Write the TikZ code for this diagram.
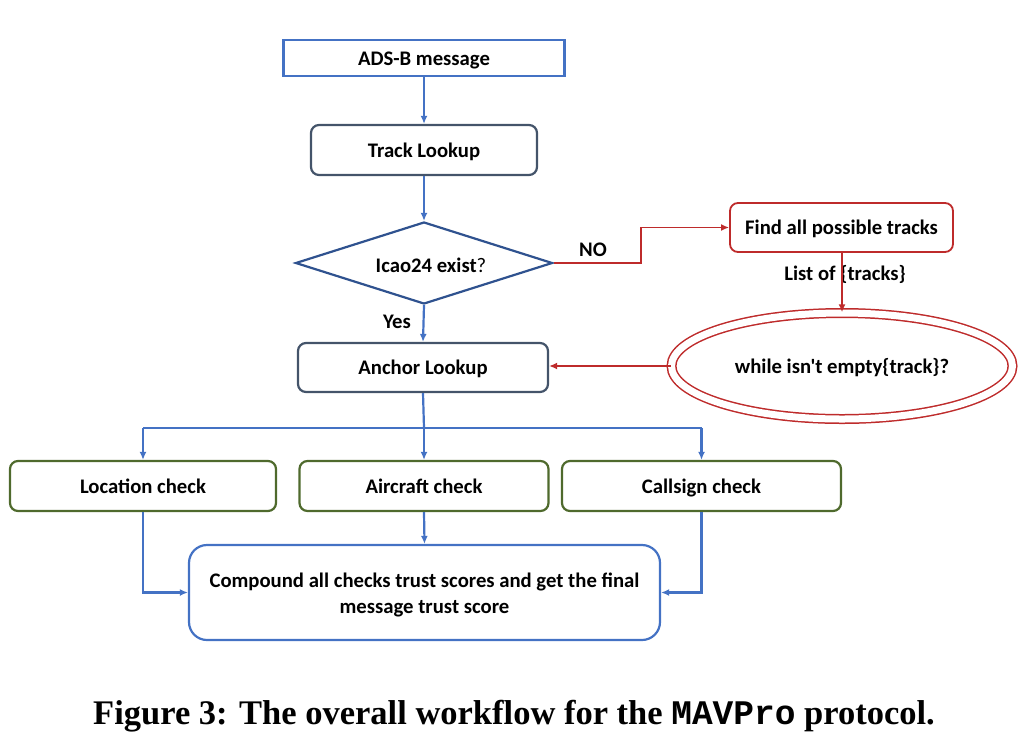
\documentclass[tikz,border=0pt]{standalone}
\usepackage{fontspec}
\setmainfont{Carlito}[Ligatures=TeXOff]
\newfontfamily\capfont{Liberation Serif}
\newfontfamily\capmono{Liberation Mono}
\usetikzlibrary{shapes.geometric,arrows.meta}
\definecolor{cblue}{HTML}{4472C4}
\definecolor{cslate}{HTML}{44546A}
\definecolor{cdia}{HTML}{2F528F}
\definecolor{cred}{HTML}{BE2B2B}
\definecolor{cgreen}{HTML}{4F6A2D}
\begin{document}
\begin{tikzpicture}[x=1pt,y=-1pt,
  lbl/.style={font=\fontsize{20.7}{24}\selectfont\bfseries},
  boxbase/.style={lbl, draw, line width=2.2pt, inner sep=0pt, align=center},
  fixh/.style={text height=17pt, text depth=3pt},
  bluebox/.style={boxbase, draw=cblue},
  slatebox/.style={boxbase, fixh, draw=cslate, rounded corners=8pt},
  redbox/.style={boxbase, fixh, draw=cred, line width=1.8pt, rounded corners=8pt},
  greenbox/.style={boxbase, fixh, draw=cgreen, rounded corners=8pt},
  conn/.style={draw=cblue, line width=2.2pt, -{Latex[length=8pt,width=7pt]}},
  rconn/.style={draw=cred, line width=1.6pt, -{Latex[length=8pt,width=7pt]}},
  plainconn/.style={draw=cblue, line width=2.2pt}
]
\useasboundingbox (0,0) rectangle (1030,748);

\node[bluebox, fixh, minimum width=281pt, minimum height=36pt] (ads) at (424,58) {ADS-B message};
\node[slatebox, minimum width=226pt, minimum height=50pt] (track) at (424,150) {Track Lookup};
\node[lbl, diamond, draw=cdia, line width=2.2pt, inner sep=0pt, aspect=3.13,
      minimum width=257pt, minimum height=82pt] (dia) at (424,263) {};
\node[lbl] (diatext) at (431,265) {Icao24 exist\mdseries ?};
\node[slatebox, minimum width=250pt, minimum height=49pt] (anchor) at (423,367.5) {Anchor Lookup};
\node[redbox, minimum width=223pt, minimum height=49pt] (find) at (841.5,227.5) {Find all possible tracks};
\node[lbl, ellipse, draw=cred, line width=1.5pt, double=white, double distance=7pt,
      minimum width=341pt, minimum height=106pt, inner sep=0pt, text height=17pt, text depth=3pt] (loop) at (842,366) {while isn't empty\{track\}?};

\node[greenbox, minimum width=266pt, minimum height=50pt] (loc) at (143,486) {Location check};
\node[greenbox, minimum width=249pt, minimum height=50pt] (air) at (424,486) {Aircraft check};
\node[greenbox, minimum width=279pt, minimum height=50pt] (call) at (701.5,486) {Callsign check};
\node[bluebox, rounded corners=18pt, minimum width=471pt, minimum height=95pt] (comp) at (424.5,592.5)
  {\rule{0pt}{20pt}Compound all checks trust scores and get the final\\[2pt] message trust score};

\node[lbl] (yes) at (397,322) {Yes};
\node[lbl] (no) at (593,250) {NO};
\node[lbl] (list) at (845,274) {List of \{tracks\}};

\coordinate (j) at (424,428);
\coordinate (nobend) at (641,263);

\draw[conn] (ads.south) -- (track.north);
\draw[conn] (track.south) -- (dia.north);
\draw[conn] (dia.south) -- (anchor.north);
\draw[rconn] (dia.east) -- (nobend) |- (find.west);
\draw[rconn] (find.south -| loop.north) -- (loop.north);
\draw[rconn] (loop.west) -- (loop.west -| anchor.east);

\draw[plainconn] (anchor.south) -- (j);
\draw[plainconn] (j -| loc.north) -- (j -| call.north);
\draw[conn] (j -| loc.north) -- (loc.north);
\draw[conn] (j) -- (air.north);
\draw[conn] (j -| call.north) -- (call.north);

\draw[conn] (loc.south) |- (comp.west);
\draw[conn] (air.south) -- (comp.north);
\draw[conn] (call.south) |- (comp.east);

\node (cap) at (514,716) {\capfont\bfseries\fontsize{34.5}{40}\selectfont Figure 3: The overall workflow for the {\capmono MAVPro} protocol.};
\end{tikzpicture}
\end{document}
